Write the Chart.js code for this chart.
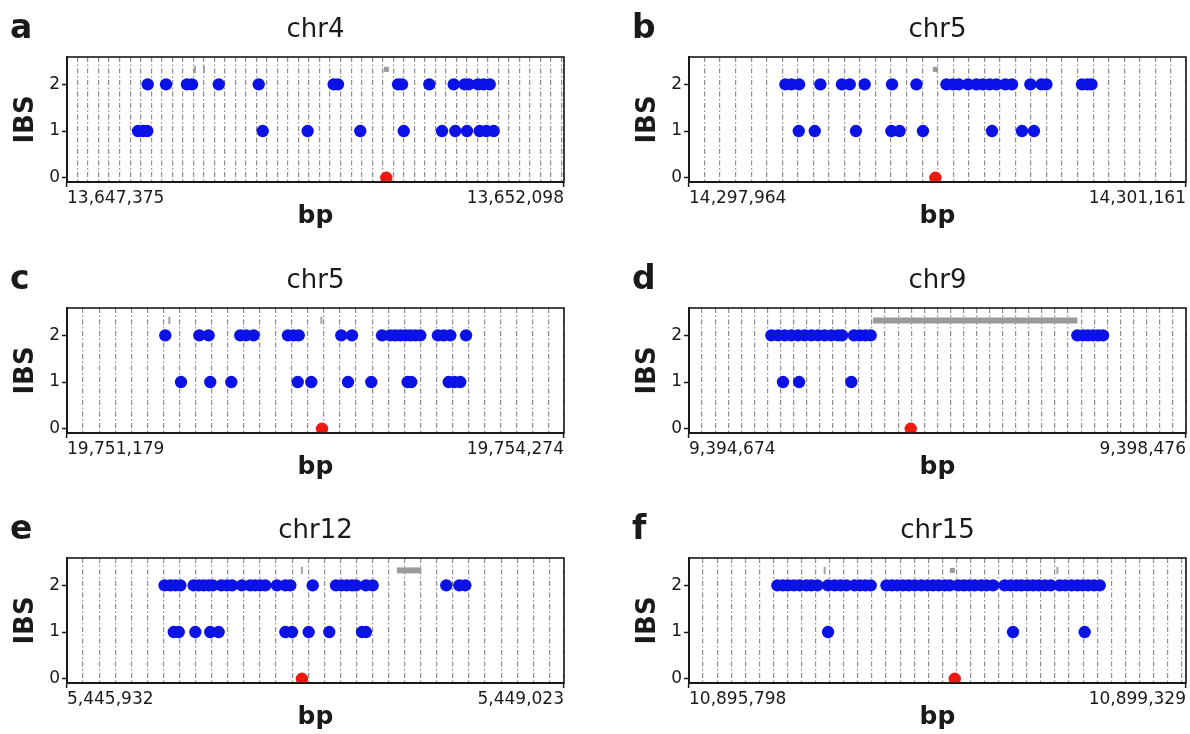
<!DOCTYPE html>
<html>
<head>
<meta charset="utf-8">
<title>IBS around focal sites</title>
<script src="https://cdn.jsdelivr.net/npm/chart.js"></script>
<style>
  html, body { margin: 0; padding: 0; background: #fff; }
  #wrap { position: relative; width: 1190px; height: 734px; overflow: hidden; }
  #wrap canvas { position: absolute; }
</style>
</head>
<body>
<div id="wrap">
  <canvas id="pa" width="595" height="233" style="left:0;top:0"></canvas>
  <canvas id="pb" width="595" height="233" style="left:622px;top:0"></canvas>
  <canvas id="pc" width="595" height="233" style="left:0;top:251px"></canvas>
  <canvas id="pd" width="595" height="233" style="left:622px;top:251px"></canvas>
  <canvas id="pe" width="595" height="233" style="left:0;top:501px"></canvas>
  <canvas id="pf" width="595" height="233" style="left:622px;top:501px"></canvas>
</div>
<script>
// window bounds (bp) and chromosome of each panel
var letters = ['a', 'b', 'c', 'd', 'e', 'f'];
var chroms = ['chr4', 'chr5', 'chr5', 'chr9', 'chr12', 'chr15'];
var aRange = [13647375, 13652098];
var bRange = [14297964, 14301161];
var cRange = [19751179, 19754274];
var dRange = [9394674, 9398476];
var eRange = [5445932, 5449023];
var fRange = [10895798, 10899329];

// markers with IBS = 2 and IBS = 1, plus the focal site (IBS = 0)
var aIbs2 = [13648142, 13648316, 13648515, 13648563, 13648817, 13649197, 13649909, 13649950, 13650521, 13650559, 13650818, 13651050, 13651154, 13651192, 13651281, 13651335, 13651392];
var aIbs1 = [13648050, 13648097, 13648138, 13649235, 13649662, 13650162, 13650575, 13650939, 13651065, 13651176, 13651297, 13651360, 13651430];
var aFocal = 13650409;

var bIbs2 = [14298584, 14298623, 14298672, 14298809, 14298948, 14298998, 14299094, 14299270, 14299427, 14299620, 14299662, 14299699, 14299759, 14299813, 14299855, 14299898, 14299942, 14299999, 14300042, 14300160, 14300231, 14300263, 14300492, 14300527, 14300553];
var bIbs1 = [14298670, 14298773, 14299038, 14299266, 14299319, 14299469, 14299913, 14300106, 14300183];
var bFocal = 14299549;

var cIbs2 = [19751791, 19752003, 19752061, 19752258, 19752294, 19752341, 19752555, 19752590, 19752622, 19752887, 19752954, 19753141, 19753192, 19753223, 19753255, 19753286, 19753317, 19753348, 19753379, 19753489, 19753525, 19753566, 19753664];
var cIbs1 = [19751889, 19752071, 19752202, 19752616, 19752700, 19752929, 19753074, 19753300, 19753323, 19753556, 19753591, 19753628];
var cFocal = 19752767;

var dIbs2 = [9395304, 9395355, 9395406, 9395457, 9395508, 9395559, 9395610, 9395661, 9395712, 9395763, 9395814, 9395845, 9395936, 9395980, 9396023, 9396064, 9397645, 9397688, 9397726, 9397765, 9397803, 9397841];
var dIbs1 = [9395393, 9395516, 9395916];
var dFocal = 9396370;

var eIbs2 = [5446539, 5446575, 5446606, 5446637, 5446720, 5446751, 5446782, 5446813, 5446838, 5446892, 5446927, 5446958, 5447020, 5447072, 5447103, 5447134, 5447165, 5447238, 5447290, 5447321, 5447460, 5447605, 5447638, 5447673, 5447704, 5447729, 5447791, 5447833, 5448291, 5448372, 5448409];
var eIbs1 = [5446596, 5446627, 5446730, 5446823, 5446875, 5447290, 5447331, 5447435, 5447563, 5447767, 5447791];
var eFocal = 5447393;

var fIbs2 = [10896426, 10896466, 10896501, 10896544, 10896585, 10896632, 10896668, 10896710, 10896786, 10896833, 10896876, 10896916, 10896975, 10897011, 10897051, 10897089, 10897201, 10897240, 10897279, 10897318, 10897359, 10897402, 10897449, 10897492, 10897532, 10897572, 10897615, 10897650, 10897709, 10897752, 10897792, 10897828, 10897875, 10897911, 10897958, 10898041, 10898084, 10898124, 10898160, 10898202, 10898242, 10898283, 10898325, 10898368, 10898432, 10898472, 10898515, 10898558, 10898597, 10898633, 10898676, 10898716];
var fIbs1 = [10896786, 10898100, 10898609];
var fFocal = 10897686;

// gray annotations above the IBS = 2 row: small boxes, thin ticks, and spans
var aBoxes = [13650409], aTicks = [13648591, 13648677], aSpans = [];
var bBoxes = [14299549], bTicks = [], bSpans = [];
var cBoxes = [], cTicks = [19751816, 19752763], cSpans = [];
var dBoxes = [], dTicks = [], dSpans = [[9396082, 9397645]];
var eBoxes = [], eTicks = [5447393], eSpans = [[5447984, 5448135]];
var fBoxes = [10897669], fTicks = [10896762, 10898415], fSpans = [];
var annotY = 2.32;

var FONT = '"DejaVu Sans", sans-serif';
var INK = '#1a1a1a';

function pts(xs, y) {
    return xs.map(function (x) { return {x: x, y: y}; });
}

// outline of the plotting region, drawn over the points
var framePlugin = {
    id: 'frame',
    afterDatasetsDraw: function (chart) {
        var a = chart.chartArea, ctx = chart.ctx;
        ctx.save();
        ctx.strokeStyle = INK;
        ctx.lineWidth = 1.6;
        ctx.strokeRect(a.left, a.top, a.right - a.left, a.bottom - a.top);
        ctx.restore();
    }
};

// bold panel letter in the top left corner
var letterPlugin = {
    id: 'panelLetter',
    afterDraw: function (chart, args, opts) {
        var ctx = chart.ctx;
        ctx.save();
        ctx.font = 'bold 33px ' + FONT;
        ctx.fillStyle = INK;
        ctx.textBaseline = 'alphabetic';
        ctx.fillText(opts.text, 10, 38);
        ctx.restore();
    }
};

function makePanel(id, letter, chrom, range, ibs2, ibs1, focal, boxes, ticks, spans) {
    var datasets = [
        {
            data: pts(ibs2, 2).concat(pts(ibs1, 1)),
            backgroundColor: '#0b12e6',
            borderWidth: 0,
            pointRadius: 6.2
        },
        {
            data: [{x: focal, y: 0}],
            backgroundColor: '#ee1a12',
            borderWidth: 0,
            pointRadius: 6.2
        },
        {
            data: pts(boxes, annotY),
            pointStyle: 'rect',
            backgroundColor: '#9a9a9a',
            borderWidth: 0,
            pointRadius: 3.6
        },
        {
            data: pts(ticks, annotY),
            pointStyle: 'line',
            rotation: 90,
            borderColor: '#a3a3a3',
            borderWidth: 2,
            pointRadius: 3.6
        }
    ];
    spans.forEach(function (s) {
        datasets.push({
            data: pts(s, annotY),
            showLine: true,
            borderColor: '#9a9a9a',
            borderWidth: 6,
            pointRadius: 0
        });
    });

    return new Chart(document.getElementById(id), {
        type: 'scatter',
        data: {datasets: datasets},
        plugins: [framePlugin, letterPlugin],
        options: {
            responsive: false,
            animation: false,
            layout: {padding: {left: 0, right: 31, top: 0, bottom: 0}},
            plugins: {
                legend: {display: false},
                tooltip: {enabled: false},
                panelLetter: {text: letter},
                title: {
                    display: true,
                    text: chrom,
                    fullSize: false,
                    color: INK,
                    font: {family: FONT, size: 26, weight: 'normal'},
                    padding: {top: 14.4, bottom: 11.4}
                }
            },
            scales: {
                x: {
                    type: 'linear',
                    min: range[0],
                    max: range[1],
                    afterBuildTicks: function (scale) {
                        // dashed guides every 100 bp from the left edge
                        var t = [];
                        for (var v = range[0]; v < range[1]; v += 100) t.push({value: v});
                        t.push({value: range[1]});
                        scale.ticks = t;
                    },
                    afterFit: function (scale) { scale.height = 51; },
                    ticks: {
                        autoSkip: false,
                        maxRotation: 0,
                        align: 'inner',
                        padding: 1,
                        color: INK,
                        font: {family: FONT, size: 17},
                        callback: function (v, i, all) {
                            return (i === 0 || i === all.length - 1) ? v.toLocaleString('en-US') : '';
                        }
                    },
                    grid: {
                        color: '#8e8e8e',
                        lineWidth: 1.2,
                        tickLength: 5,
                        tickWidth: 1.5,
                        tickColor: function (c) {
                            var n = c.scale.ticks.length;
                            return (c.index === 0 || c.index === n - 1) ? INK : 'rgba(0,0,0,0)';
                        }
                    },
                    border: {color: INK, width: 2, dash: [5, 2.5, 1.5, 2.5]},
                    title: {
                        display: true,
                        text: 'bp',
                        color: INK,
                        font: {family: FONT, size: 25, weight: 'bold'},
                        padding: {top: 0, bottom: 1.5}
                    }
                },
                y: {
                    min: -0.09,
                    max: 2.585,
                    afterBuildTicks: function (scale) {
                        scale.ticks = [{value: 0}, {value: 1}, {value: 2}];
                    },
                    afterFit: function (scale) { scale.width = 67; },
                    ticks: {
                        padding: 2,
                        color: INK,
                        font: {family: FONT, size: 17}
                    },
                    grid: {
                        drawOnChartArea: false,
                        tickLength: 5,
                        tickWidth: 1.5,
                        tickColor: INK
                    },
                    border: {color: INK, width: 2},
                    title: {
                        display: true,
                        text: 'IBS',
                        color: INK,
                        font: {family: FONT, size: 26, weight: 'bold'},
                        padding: {top: 11, bottom: 0}
                    }
                }
            }
        }
    });
}

makePanel('pa', letters[0], chroms[0], aRange, aIbs2, aIbs1, aFocal, aBoxes, aTicks, aSpans);
makePanel('pb', letters[1], chroms[1], bRange, bIbs2, bIbs1, bFocal, bBoxes, bTicks, bSpans);
makePanel('pc', letters[2], chroms[2], cRange, cIbs2, cIbs1, cFocal, cBoxes, cTicks, cSpans);
makePanel('pd', letters[3], chroms[3], dRange, dIbs2, dIbs1, dFocal, dBoxes, dTicks, dSpans);
makePanel('pe', letters[4], chroms[4], eRange, eIbs2, eIbs1, eFocal, eBoxes, eTicks, eSpans);
makePanel('pf', letters[5], chroms[5], fRange, fIbs2, fIbs1, fFocal, fBoxes, fTicks, fSpans);
</script>
</body>
</html>
